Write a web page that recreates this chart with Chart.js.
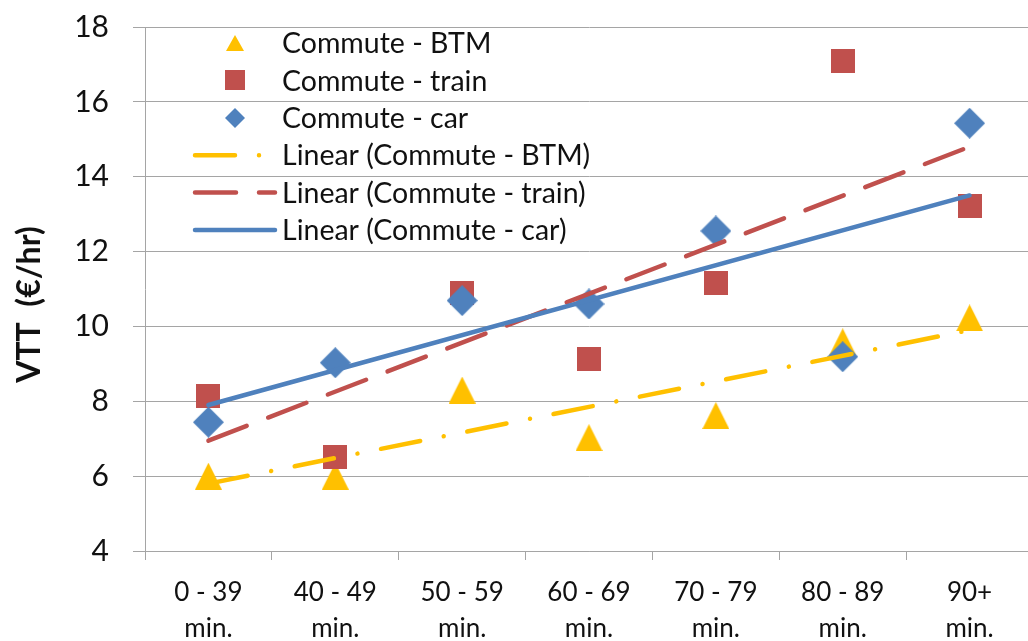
<!DOCTYPE html>
<html>
<head>
<meta charset="utf-8">
<script src="https://cdn.jsdelivr.net/npm/chart.js@4/dist/chart.umd.min.js"></script>
<style>
  html, body { margin: 0; padding: 0; background: #fff; overflow: hidden; }
  #wrap { width: 1028px; height: 641px; overflow: hidden; position: relative; }
  canvas { display: block; }
</style>
</head>
<body>
<div id="wrap"><canvas id="c" width="1048" height="641"></canvas></div>
<script>
// ---- Data ----
const categories = [['0 - 39', 'min.'], ['40 - 49', 'min.'], ['50 - 59', 'min.'], ['60 - 69', 'min.'], ['70 - 79', 'min.'], ['80 - 89', 'min.'], ['90+', 'min.']];
const btmValues   = [6.0, 6.0, 8.3, 7.03, 7.62, 9.59, 10.23];
const trainValues = [8.14, 6.52, 10.9, 9.13, 11.15, 17.1, 13.23];
const carValues   = [7.44, 9.03, 10.69, 10.6, 12.55, 9.19, 15.43];
// trendline end values as drawn in the picture (first and last category)
const btmTrend   = [5.8, null, null, null, null, null, 9.9];
const trainTrend = [6.95, null, null, null, null, null, 14.8];
const carTrend   = [7.9, null, null, null, null, null, 13.5];
const yTicks = [4, 6, 8, 10, 12, 14, 16, 18];
const seriesNames = ['Commute - BTM', 'Commute - train', 'Commute - car',
  'Linear (Commute - BTM)', 'Linear (Commute - train)', 'Linear (Commute - car)'];
const yTitle = 'VTT  (€/hr)';

const COL_BTM = '#FFC000', COL_TRAIN = '#C0504D', COL_CAR = '#4F81BD';
const FONT = 'Lato, "Open Sans", sans-serif';

function marker(shape, w, h, color) {
  const c = document.createElement('canvas');
  c.width = w; c.height = h;
  const g = c.getContext('2d');
  g.fillStyle = color;
  g.beginPath();
  if (shape === 'tri') { g.moveTo(w / 2, 0); g.lineTo(w, h); g.lineTo(0, h); }
  else if (shape === 'sq') { g.rect(0, 0, w, h); }
  else { g.moveTo(w / 2, 0); g.lineTo(w, h / 2); g.lineTo(w / 2, h); g.lineTo(0, h / 2); }
  g.closePath(); g.fill();
  return c;
}
const mk = {
  btm: marker('tri', 27, 27, COL_BTM), train: marker('sq', 24, 24, COL_TRAIN), car: marker('dia', 31, 31, COL_CAR),
  lbtm: marker('tri', 18, 16, COL_BTM), ltrain: marker('sq', 20, 20, COL_TRAIN), lcar: marker('dia', 20, 20, COL_CAR)
};

const DASH_BTM = [40, 24, 0.01, 24];
const DASH_TRAIN = [41, 23];

function pointSet(label, data, color, style, order) {
  return { label, data, showLine: false, pointStyle: style, pointRadius: 14, pointHoverRadius: 14,
    backgroundColor: color, borderColor: color, order };
}
function trendSet(label, data, color, dash, order) {
  return { label, data, showLine: true, spanGaps: true, pointRadius: 0, pointHoverRadius: 0,
    borderColor: color, borderWidth: 4.5, borderDash: dash, borderCapStyle: 'round', tension: 0, order, fill: false };
}

const legendPlugin = {
  id: 'xlLegend',
  afterDraw(chart) {
    const ctx = chart.ctx;
    const y0 = 43, step = 37.4, mx = 235, lx0 = 195, lx1 = 275, tx = 282;
    const markers = [mk.lbtm, mk.ltrain, mk.lcar];
    const lines = [[COL_BTM, DASH_BTM], [COL_TRAIN, DASH_TRAIN], [COL_CAR, []]];
    ctx.save();
    ctx.font = '28.5px ' + FONT;
    ctx.fillStyle = '#111';
    ctx.textBaseline = 'middle';
    ctx.textAlign = 'left';
    for (let i = 0; i < 6; i++) {
      const y = y0 + i * step;
      if (i < 3) {
        const m = markers[i];
        ctx.drawImage(m, Math.round(mx - m.width / 2), Math.round(y - m.height / 2));
      } else {
        const [col, dash] = lines[i - 3];
        ctx.strokeStyle = col; ctx.lineWidth = 4.5; ctx.lineCap = 'round';
        ctx.setLineDash(dash);
        ctx.beginPath(); ctx.moveTo(lx0, y); ctx.lineTo(lx1, y); ctx.stroke();
        ctx.setLineDash([]);
      }
      ctx.fillText(seriesNames[i], tx, y + 1);
    }
    ctx.restore();
  }
};

new Chart(document.getElementById('c'), {
  type: 'line',
  data: {
    labels: categories,
    datasets: [
      pointSet(seriesNames[0], btmValues, COL_BTM, mk.btm, 5),
      pointSet(seriesNames[1], trainValues, COL_TRAIN, mk.train, 4),
      pointSet(seriesNames[2], carValues, COL_CAR, mk.car, 3),
      trendSet(seriesNames[3], btmTrend, COL_BTM, DASH_BTM, 2),
      trendSet(seriesNames[4], trainTrend, COL_TRAIN, DASH_TRAIN, 1),
      trendSet(seriesNames[5], carTrend, COL_CAR, [], 0)
    ]
  },
  options: {
    responsive: false,
    animation: false,
    devicePixelRatio: 1,
    layout: { padding: { left: 0, top: 27, right: 4, bottom: 0 } },
    plugins: { legend: { display: false }, tooltip: { enabled: false } },
    scales: {
      x: {
        type: 'category',
        offset: true,
        afterFit(s) { s.height = 90; },
        grid: { offset: true, drawOnChartArea: false, drawTicks: true, tickLength: 9, color: '#a5a5a5', lineWidth: 1 },
        border: { display: true, color: '#a5a5a5', width: 1 },
        ticks: { color: '#111', font: { family: FONT, size: 26, lineHeight: 1.385 }, padding: 15, maxRotation: 0, autoSkip: false }
      },
      y: {
        min: 4, max: 18,
        afterFit(s) { s.width = 145; s.paddingTop = 0; s.paddingBottom = 0; },
        afterBuildTicks(s) { s.ticks = yTicks.map(v => ({ value: v })); },
        grid: { color: '#a5a5a5', lineWidth: 1, tickLength: 12 },
        border: { display: true, color: '#a5a5a5', width: 1 },
        ticks: { color: '#111', font: { family: FONT, size: 30 }, padding: 24 },
        title: { display: true, text: yTitle + '    ', color: '#111', font: { family: FONT, size: 32, weight: 'bold' }, padding: { top: 10, bottom: 0 } }
      }
    }
  },
  plugins: [legendPlugin]
});
</script>
</body>
</html>
